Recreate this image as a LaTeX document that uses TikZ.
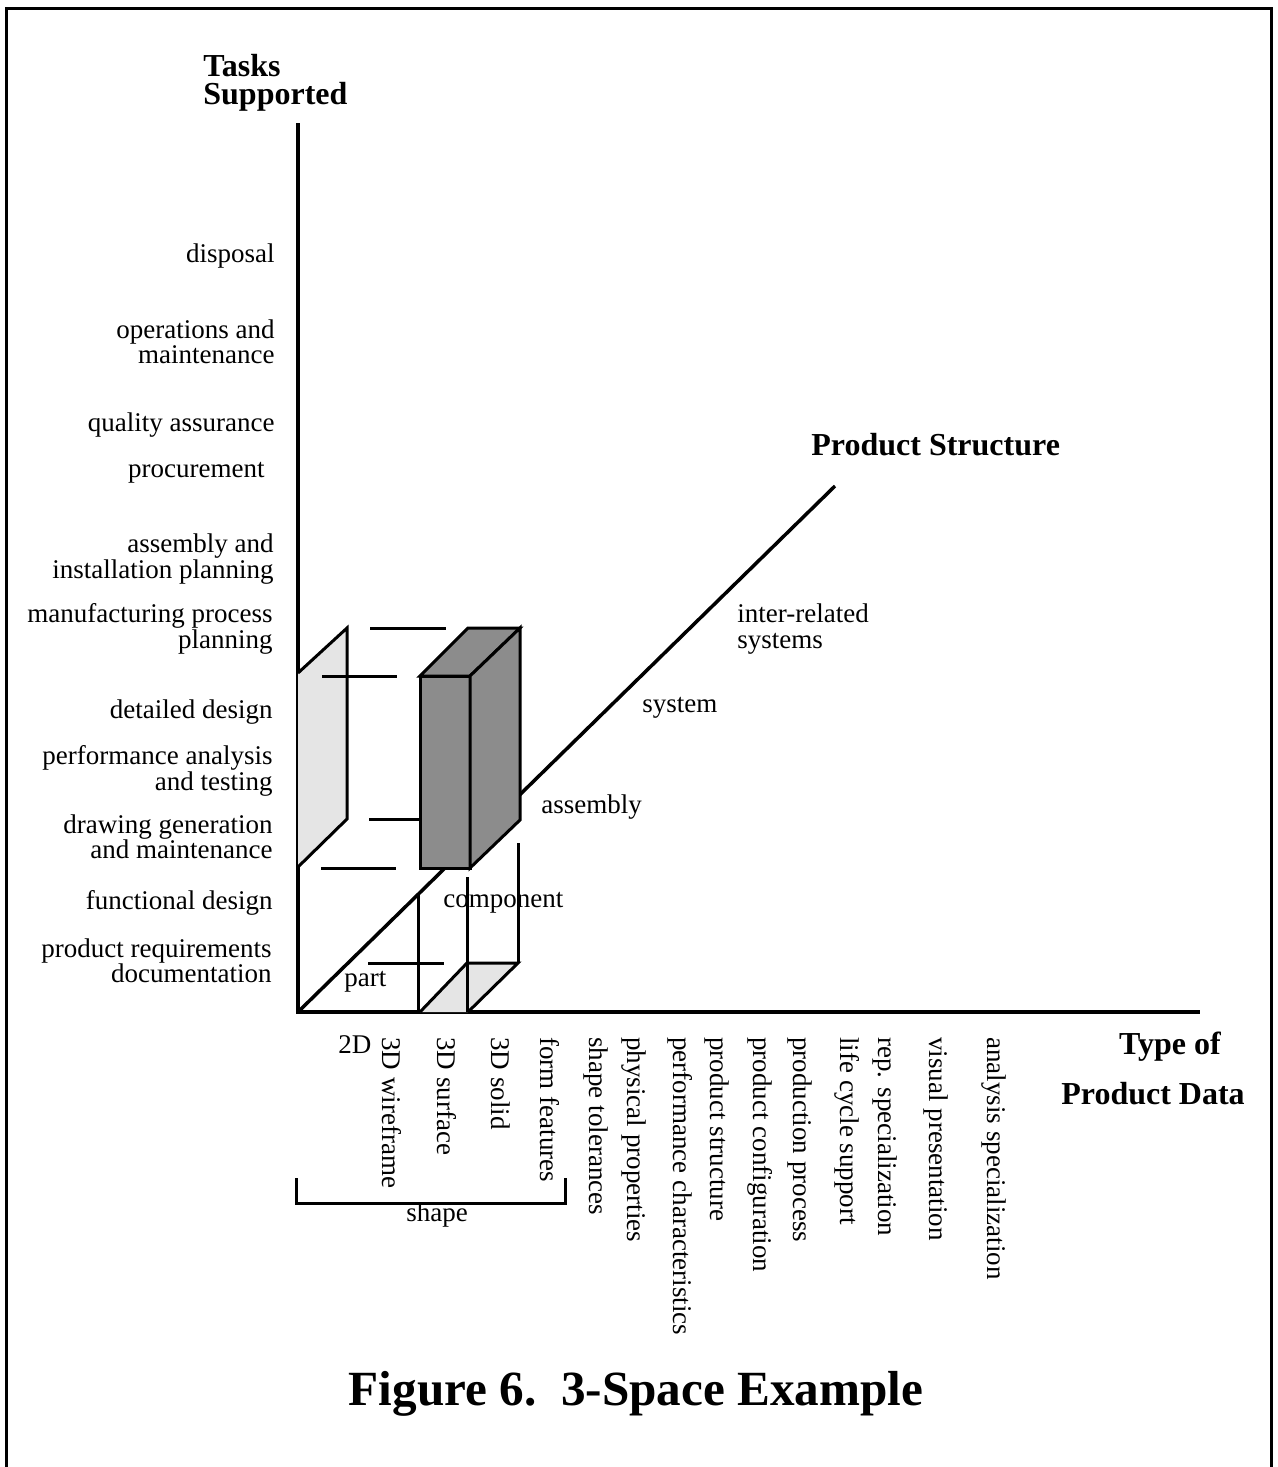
\documentclass[tikz,border=0pt]{standalone}
\usepackage{fontspec}
\setmainfont{Liberation Serif}
\newcommand\lbfont{\fontsize{13.5}{12.75}\selectfont}
\newcommand\ttlfont{\fontsize{16}{14}\selectfont\bfseries}
\newcommand\capfont{\fontsize{24.6}{30}\selectfont\bfseries}
\begin{document}
\begin{tikzpicture}[x=0.5pt,y=-0.5pt,
  lbl/.style={font=\lbfont, inner sep=0pt, align=right, anchor=east},
  txt/.style={font=\lbfont, inner sep=0pt, align=left, anchor=west},
  rot/.style={font=\lbfont, inner sep=0pt, rotate=-90, anchor=base west},
  ttl/.style={font=\ttlfont, inner sep=0pt, align=left},
  axis/.style={line width=1.75pt},
  ln/.style={line width=1.5pt},
  frame/.style={line width=1.5pt}]
\useasboundingbox (0,0) rectangle (1278,1467);
\fill[white] (0,0) rectangle (1278,1467);
% frame
\draw[frame] (6,1480) -- (6,8) -- (1271,8) -- (1271,1480);
% axes
\coordinate (O) at (298,1012);
\coordinate (Ytop) at (298,123);
\coordinate (Xend) at (1200,1012);
\coordinate (Dend) at (835,486);
\draw[axis] (Ytop) -- (O) -- (Xend);
\draw[axis] (O) -- (Dend);
% 2D plane
\coordinate (p1) at (298,673);
\coordinate (p2) at (347,628);
\coordinate (p3) at (347,819);
\coordinate (p4) at (298,867);
\fill[black!10] (p1) -- (p2) -- (p3) -- (p4) -- cycle;
\draw[ln] (p1) -- (p2) -- (p3) -- (p4);
% guide segments
\draw[ln] (370,628) -- (446,628);
\draw[ln] (322,676) -- (397,676);
\draw[ln] (369,819) -- (420,819);
\draw[ln] (321,868) -- (396,868);
% box
\coordinate (b1) at (420,676);
\coordinate (b2) at (470,676);
\coordinate (b3) at (470,868);
\coordinate (b4) at (420,868);
\coordinate (b5) at (468,628);
\coordinate (b6) at (520,628);
\coordinate (b7) at (520,820);
\filldraw[ln, fill=black!45, line join=miter] (b1) -- (b2) -- (b3) -- (b4) -- cycle;
\filldraw[ln, fill=black!45, line join=miter] (b1) -- (b5) -- (b6) -- (b2) -- cycle;
\filldraw[ln, fill=black!45, line join=miter] (b2) -- (b6) -- (b7) -- (b3) -- cycle;
% lower lines
\draw[ln] (418,894) -- (418,1012);
\draw[ln] (467,877) -- (467,1012);
\draw[ln] (518,843) -- (518,963);
\draw[ln] (368,963) -- (444,963);
\coordinate (q1) at (420,1012);
\coordinate (q2) at (467,963);
\coordinate (q3) at (518,963);
\coordinate (q4) at (468,1012);
\fill[black!10] (q1) -- (q2) -- (q3) -- (q4) -- cycle;
\draw[ln] (q1) -- (q2) -- (q3) -- (q4);
\draw[ln] (467,963) -- (467,1012);
% titles
\node[ttl, anchor=north west] (tasks) at (203,54) {Tasks\\Supported};
\node[ttl, anchor=west] (ps) at (811,445) {Product Structure};
\node[ttl, anchor=center] (type1) at (1170,1047) {Type of};
\node[ttl, anchor=center] (type2) at (1153,1094) {Product Data};
% left labels
\node[lbl] (t1) at (275,256) {disposal};
\node[lbl] (t2) at (275,342) {operations and\\maintenance};
\node[lbl] (t3) at (275,425) {quality assurance};
\node[lbl] (t4) at (265,473) {procurement};
\node[lbl] (t5) at (274,559) {assembly and\\installation planning};
\node[lbl] (t6) at (273,629) {manufacturing process\\planning};
\node[lbl] (t7) at (273,712) {detailed design};
\node[lbl] (t8) at (273,771) {performance analysis\\and testing};
\node[lbl] (t9) at (273,837) {drawing generation\\and maintenance};
\node[lbl] (t10) at (273,903) {functional design};
\node[lbl] (t11) at (272,961) {product requirements\\documentation};
% product structure labels
\node[txt] (s1) at (737,629) {inter-related\\systems};
\node[txt] (s2) at (642,708) {system};
\node[txt] (s3) at (541,807) {assembly};
\node[txt] (s4) at (443,903) {component};
\node[txt] (s5) at (344,982) {part};
% bottom labels
\node[font=\lbfont, inner sep=0pt, anchor=base west] (d0) at (338,1053) {2D};
\node[rot] (d1) at (382,1037) {3D wireframe};
\node[rot] (d2) at (437,1037) {3D surface};
\node[rot] (d3) at (491,1037) {3D solid};
\node[rot] (d4) at (540,1037) {form features};
\node[rot] (d5) at (589,1037) {shape tolerances};
\node[rot] (d6) at (627,1037) {physical properties};
\node[rot] (d7) at (673,1037) {performance characteristics};
\node[rot] (d8) at (710,1037) {product structure};
\node[rot] (d9) at (753,1037) {product configuration};
\node[rot] (d10) at (793,1037) {production process};
\node[rot] (d11) at (840,1037) {life cycle support};
\node[rot] (d12) at (878,1037) {rep. specialization};
\node[rot] (d13) at (929,1037) {visual presentation};
\node[rot] (d14) at (987,1037) {analysis specialization};
% bracket
\draw[ln] (296,1178) -- (296,1203) -- (565,1203) -- (565,1178);
\node[font=\lbfont, inner sep=0pt, anchor=center] (shape) at (437,1215) {shape};
% caption
\node[font=\capfont, inner sep=0pt, anchor=base] (cap) at (636,1405) {Figure 6.\ \ 3-Space Example};
\end{tikzpicture}
\end{document}
